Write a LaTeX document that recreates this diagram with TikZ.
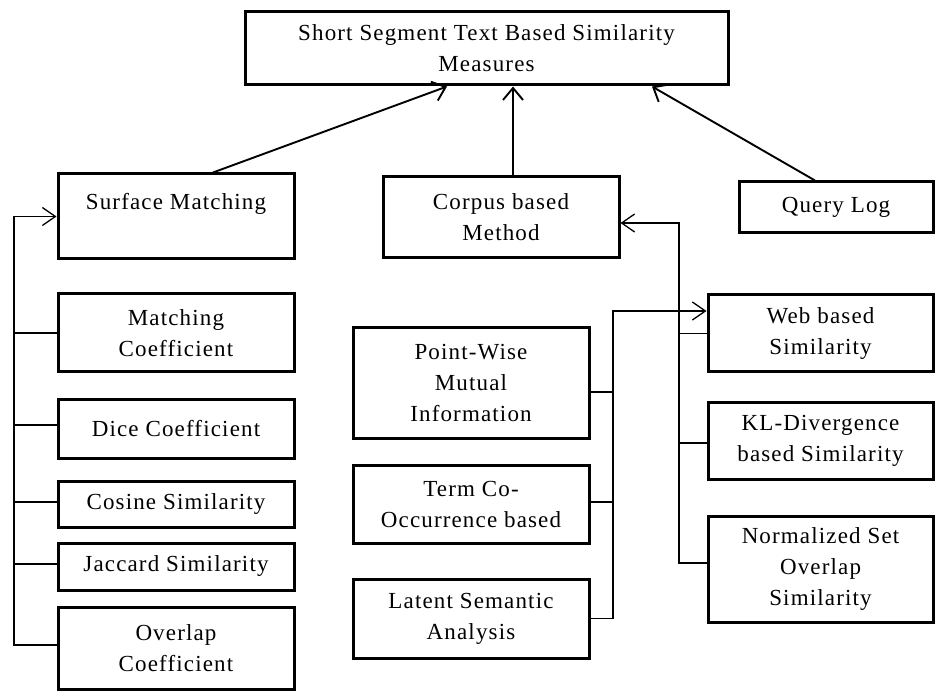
\documentclass[tikz,border=0pt]{standalone}
\usepackage{fontspec}
\setmainfont{Liberation Serif}[LetterSpace=5.0]
\usetikzlibrary{arrows.meta}
\begin{document}
\begin{tikzpicture}[x=1pt,y=-1pt,
  box/.style={draw, line width=3pt, rectangle, inner sep=0pt, align=center,
    font=\fontsize{23}{31}\selectfont},
  wire/.style={line width=1.3pt},
  arr/.style={line width=1.3pt, -{Straight Barb[length=13pt,width=18pt,line width=1.3pt]}},
  toparr/.style={line width=1.9pt, -{Straight Barb[length=12pt,width=20pt,line width=1.9pt]}}]
\useasboundingbox (0,0) rectangle (937,692);
% boxes
\node[box, minimum width=483pt, minimum height=73pt] (top) at (486.5,48.5) {Short Segment Text Based Similarity\\Measures};
\node[box, minimum width=236pt, minimum height=85pt] (surf) at (176,216.5) {Surface Matching\\\mbox{}};
\node[box, minimum width=236pt, minimum height=81pt] (corpus) at (501,217.5) {Corpus based\\Method};
\node[box, minimum width=194pt, minimum height=51pt] (query) at (836,207.5) {Query Log};
\node[box, minimum width=236pt, minimum height=78pt] (match) at (176,333) {Matching\\Coefficient};
\node[box, minimum width=236pt, minimum height=58pt] (dice) at (176,429) {Dice Coefficient};
\node[box, minimum width=236pt, minimum height=46pt] (cosine) at (176,504) {Cosine Similarity};
\node[box, minimum width=236pt, minimum height=47pt] (jaccard) at (176,566.5) {Jaccard Similarity};
\node[box, minimum width=236pt, minimum height=82pt] (overlap) at (176,648) {Overlap\\Coefficient};
\node[box, minimum width=236pt, minimum height=110pt] (pmi) at (471,383) {Point-Wise\\Mutual\\Information};
\node[box, minimum width=236pt, minimum height=78pt] (term) at (471,504) {Term Co-\\Occurrence based};
\node[box, minimum width=236pt, minimum height=79pt] (lsa) at (471,618.5) {Latent Semantic\\Analysis};
\node[box, minimum width=225pt, minimum height=77pt] (web) at (820.5,333.5) {Web based\\Similarity};
\node[box, minimum width=225pt, minimum height=76pt] (kl) at (820.5,441) {KL-Divergence\\based Similarity};
\node[box, minimum width=225pt, minimum height=106pt] (norm) at (820.5,569) {Normalized Set\\Overlap\\Similarity};
% bus coordinates
\coordinate (lb) at (14,0);
\coordinate (mb) at (613,0);
\coordinate (rb) at (679,0);
% top arrows
\draw[toparr] ([xshift=37pt]surf.north) -- ([xshift=-39.5pt]top.south);
\draw[toparr] ([xshift=12pt]corpus.north) -- ([xshift=26.5pt]top.south);
\draw[toparr] ([xshift=-21pt]query.north) -- ([xshift=165.5pt]top.south);
% left bus
\draw[arr] ([yshift=3pt]overlap.west) -- ([yshift=3pt]overlap.west -| lb) -- (surf.west -| lb) -- (surf.west);
\draw[wire] (match.west) -- (match.west -| lb);
\draw[wire] ([yshift=4pt]dice.west) -- ([yshift=4pt]dice.west -| lb);
\draw[wire] ([yshift=2pt]cosine.west) -- ([yshift=2pt]cosine.west -| lb);
\draw[wire] ([yshift=2.5pt]jaccard.west) -- ([yshift=2.5pt]jaccard.west -| lb);
% middle bus
\draw[arr] (lsa.east) -- (lsa.east -| mb) -- ([yshift=22.5pt]web.west -| mb) -- ([yshift=22.5pt]web.west);
\draw[wire] ([yshift=-9pt]pmi.east) -- ([yshift=-9pt]pmi.east -| mb);
\draw[wire] ([yshift=2pt]term.east) -- ([yshift=2pt]term.east -| mb);
% right bus
\draw[arr] ([yshift=6pt]norm.west) -- ([yshift=6pt]norm.west -| rb) -- ([yshift=-5.5pt]corpus.east -| rb) -- ([yshift=-5.5pt]corpus.east);
\draw[wire] (web.west) -- (web.west -| rb);
\draw[wire] ([yshift=-2pt]kl.west) -- ([yshift=-2pt]kl.west -| rb);
\end{tikzpicture}
\end{document}
